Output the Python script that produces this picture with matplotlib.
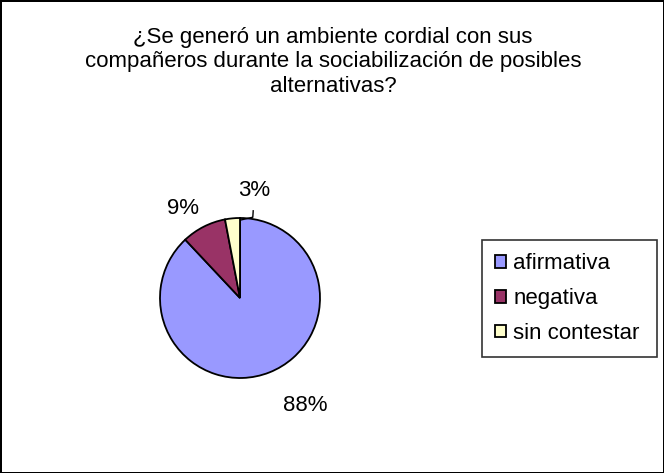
import matplotlib
matplotlib.use("Agg")
import matplotlib.pyplot as plt

# data
categories = ["afirmativa", "negativa", "sin contestar"]
values = [88, 9, 3]
colors = ["#9999FF", "#993366", "#FFFFCC"]

title_lines = [
    "¿Se generó un ambiente cordial con sus",
    "compañeros durante la sociabilización de posibles",
    "alternativas?",
]

plt.rcParams["font.family"] = ["Liberation Sans", "DejaVu Sans"]

W, H = 664, 473
fig = plt.figure(figsize=(W / 100, H / 100), dpi=100)
fig.patch.set_edgecolor("black")
fig.patch.set_linewidth(2)

# title, three centred lines
for yc, line in zip([37, 62, 87], title_lines):
    fig.text(333 / W, 1 - yc / H, line, ha="center", va="center", fontsize=16)

# pie: centre (240, 298) px, radius 80 px
cx, cy, r = 240, 298, 80
ax = fig.add_axes([(cx - r) / W, (H - cy - r) / H, 2 * r / W, 2 * r / H])
wedges, _ = ax.pie(values, colors=colors, startangle=90, counterclock=False,
                   wedgeprops=dict(edgecolor="black", linewidth=1.3))
ax.set_xlim(-1, 1)
ax.set_ylim(-1, 1)
ax.set_aspect("auto")

label_pos = [(0.82, -1.34), (-0.71, 1.12), (0.18, 1.35)]
for v, (lx, ly) in zip(values, label_pos):
    ax.text(lx, ly, f"{v}%", ha="center", va="center", fontsize=16, clip_on=False)

# leader line for the small slice
ax.plot([0.01, 0.16, 0.165], [0.975, 1.01, 1.09], color="black", lw=1, clip_on=False)

x0, x1, y0, y1 = 482, 657, 240, 358
leg = fig.legend(wedges, categories, loc="upper left", mode="expand",
                 bbox_to_anchor=(x0 / W, 1 - y1 / H, (x1 - x0) / W, (y1 - y0) / H),
                 fontsize=16, frameon=True, fancybox=False,
                 handlelength=0.5, handleheight=0.5, handletextpad=0.3,
                 labelspacing=0.62, borderpad=0.6, borderaxespad=0)
leg.get_frame().set_edgecolor("black")
leg.get_frame().set_linewidth(1.2)

fig.savefig("out.png", dpi=100)
